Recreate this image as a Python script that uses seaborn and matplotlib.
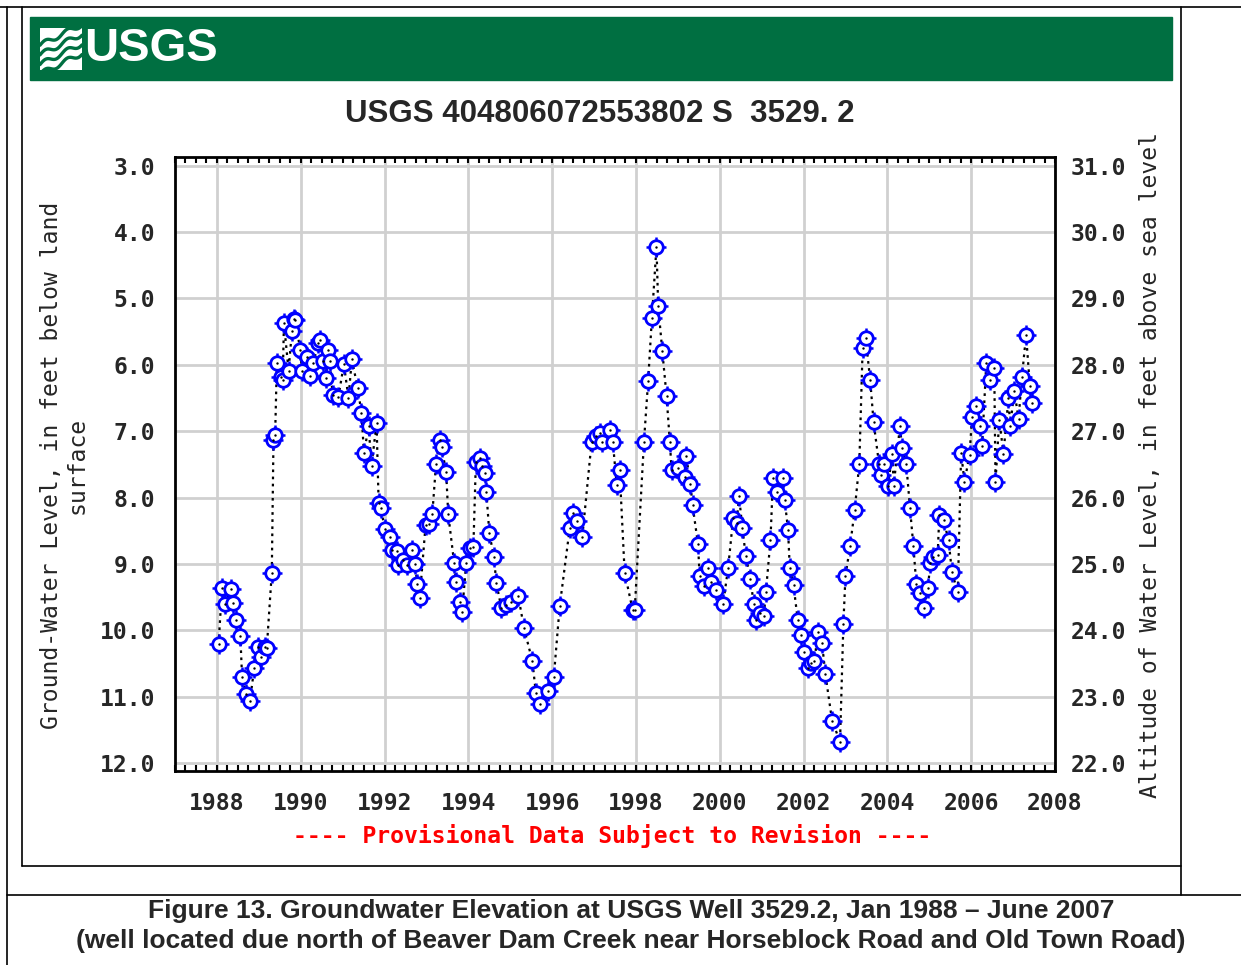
import numpy as np
import pandas as pd
import matplotlib
matplotlib.use("Agg")
import matplotlib.pyplot as plt
from matplotlib import font_manager
from matplotlib.lines import Line2D
from matplotlib.patches import Rectangle
import seaborn as sns

# measurement dates (decimal years) and depth to water, ft below land surface
years = [
    1988.04, 1988.12, 1988.20, 1988.33, 1988.38, 1988.46, 1988.56, 1988.60, 1988.70, 1988.79,
    1988.89, 1988.97, 1989.05, 1989.15, 1989.19, 1989.31, 1989.35, 1989.39, 1989.43, 1989.53,
    1989.57, 1989.60, 1989.71, 1989.79, 1989.83, 1989.87, 1989.99, 1990.03, 1990.15, 1990.22,
    1990.30, 1990.42, 1990.47, 1990.54, 1990.60, 1990.66, 1990.70, 1990.76, 1990.90, 1991.03,
    1991.14, 1991.22, 1991.36, 1991.45, 1991.51, 1991.62, 1991.69, 1991.81, 1991.86, 1991.91,
    1992.01, 1992.14, 1992.18, 1992.29, 1992.32, 1992.45, 1992.53, 1992.65, 1992.73, 1992.78,
    1992.84, 1992.98, 1993.06, 1993.14, 1993.23, 1993.32, 1993.36, 1993.47, 1993.52, 1993.66,
    1993.71, 1993.79, 1993.85, 1993.95, 1994.03, 1994.12, 1994.18, 1994.28, 1994.32, 1994.40,
    1994.43, 1994.50, 1994.61, 1994.67, 1994.79, 1994.91, 1995.03, 1995.19, 1995.33, 1995.53,
    1995.61, 1995.71, 1995.90, 1996.04, 1996.18, 1996.42, 1996.49, 1996.60, 1996.72, 1996.94,
    1997.04, 1997.14, 1997.18, 1997.38, 1997.45, 1997.54, 1997.61, 1997.73, 1997.92, 1997.97,
    1998.19, 1998.29, 1998.38, 1998.49, 1998.53, 1998.63, 1998.73, 1998.81, 1998.85, 1999.00,
    1999.16, 1999.20, 1999.30, 1999.35, 1999.48, 1999.52, 1999.62, 1999.72, 1999.80, 1999.92,
    2000.08, 2000.20, 2000.32, 2000.40, 2000.46, 2000.54, 2000.62, 2000.73, 2000.81, 2000.86,
    2000.97, 2001.05, 2001.10, 2001.21, 2001.27, 2001.37, 2001.51, 2001.55, 2001.63, 2001.67,
    2001.76, 2001.86, 2001.94, 2002.00, 2002.10, 2002.18, 2002.26, 2002.34, 2002.44, 2002.52,
    2002.68, 2002.87, 2002.95, 2003.00, 2003.11, 2003.22, 2003.33, 2003.41, 2003.48, 2003.59,
    2003.67, 2003.80, 2003.85, 2003.91, 2004.01, 2004.12, 2004.15, 2004.30, 2004.35, 2004.45,
    2004.54, 2004.62, 2004.69, 2004.77, 2004.87, 2004.97, 2005.02, 2005.08, 2005.20, 2005.24,
    2005.34, 2005.46, 2005.54, 2005.68, 2005.76, 2005.84, 2005.96, 2006.02, 2006.12, 2006.22,
    2006.26, 2006.36, 2006.44, 2006.55, 2006.58, 2006.67, 2006.77, 2006.89, 2006.93, 2007.03,
    2007.13, 2007.21, 2007.31, 2007.40, 2007.45,
]
depth_ft = [
    10.21, 9.37, 9.60, 9.38, 9.59, 9.85, 10.09, 10.70, 10.96, 11.06,
    10.57, 10.25, 10.40, 10.25, 10.27, 9.13, 7.13, 7.06, 5.98, 6.18,
    6.23, 5.37, 6.09, 5.49, 5.31, 5.33, 5.78, 6.09, 5.88, 6.17,
    5.98, 5.67, 5.62, 5.95, 6.20, 5.78, 5.95, 6.45, 6.48, 5.99,
    6.50, 5.92, 6.35, 6.73, 7.33, 6.93, 7.52, 6.88, 8.09, 8.16,
    8.48, 8.59, 8.79, 8.80, 9.01, 8.94, 9.01, 8.79, 9.00, 9.30,
    9.51, 8.41, 8.40, 8.25, 7.49, 7.13, 7.24, 7.61, 8.25, 8.98,
    9.28, 9.57, 9.73, 8.98, 8.76, 8.75, 7.46, 7.41, 7.53, 7.63,
    7.91, 8.53, 8.90, 9.29, 9.67, 9.62, 9.57, 9.48, 9.97, 10.47,
    10.94, 11.11, 10.92, 10.70, 9.64, 8.46, 8.24, 8.36, 8.59, 7.17,
    7.08, 7.03, 7.17, 6.98, 7.17, 7.81, 7.58, 9.13, 9.69, 9.70,
    7.17, 6.25, 5.30, 4.22, 5.11, 5.80, 6.47, 7.17, 7.59, 7.56,
    7.69, 7.38, 7.80, 8.11, 8.70, 9.18, 9.34, 9.06, 9.27, 9.40,
    9.60, 9.06, 8.31, 8.39, 7.98, 8.46, 8.88, 9.22, 9.60, 9.84,
    9.74, 9.79, 9.43, 8.64, 7.71, 7.91, 7.71, 8.04, 8.49, 9.06,
    9.32, 9.84, 10.07, 10.32, 10.57, 10.50, 10.47, 10.02, 10.19, 10.66,
    11.36, 11.68, 9.90, 9.18, 8.73, 8.19, 7.49, 5.74, 5.59, 6.23,
    6.86, 7.49, 7.66, 7.49, 7.83, 7.34, 7.83, 6.92, 7.26, 7.49,
    8.16, 8.73, 9.30, 9.44, 9.67, 9.37, 8.99, 8.89, 8.86, 8.26,
    8.34, 8.64, 9.12, 9.43, 7.33, 7.76, 7.36, 6.79, 6.62, 6.92,
    7.22, 5.98, 6.23, 6.05, 7.76, 6.83, 7.34, 6.50, 6.93, 6.39,
    6.82, 6.19, 5.55, 6.32, 6.58,
]

station_title = "USGS 404806072553802 S  3529. 2"
left_label = "Ground-Water Level, in feet below land\nsurface"
right_label = "Altitude of Water Level, in feet above sea level"
note = "---- Provisional Data Subject to Revision ----"
caption = ("Figure 13. Groundwater Elevation at USGS Well 3529.2, Jan 1988 \u2013 June 2007\n"
           "(well located due north of Beaver Dam Creek near Horseblock Road and Old Town Road)")
year_ticks = list(range(1988, 2009, 2))
depth_ticks = [3.0, 4.0, 5.0, 6.0, 7.0, 8.0, 9.0, 10.0, 11.0, 12.0]
land_alt = 34.0  # 3.0 ft below land <-> 31.0 ft above sea level
depth_lim = (12.12, 2.87)
year_lim = (1987.0, 2008.0)

df = pd.DataFrame({"year": years, "depth": depth_ft})

sns.set_style("white")
plt.rcParams["font.family"] = ["DejaVu Sans"]

installed = {f.name for f in font_manager.fontManager.ttflist}
narrow = "Liberation Sans Narrow" in installed
HEAD_FONT = ["Liberation Sans Narrow", "Liberation Sans"] if narrow else ["Liberation Sans"]
MONO = "DejaVu Sans Mono"
MONO_SIZE = 16.6
GREEN = "#006f41"
W, H = 1241, 965

fig = plt.figure(figsize=(W / 100, H / 100), dpi=100)
fig.patch.set_facecolor("white")


def fx(px):
    return px / W


def fy(py):
    return 1 - py / H


# page / frame lines
for xs, ys in [((0, W), (7, 7)), ((7, 7), (7, H)), ((7, W), (895, 895)),
               ((22, 22), (7, 866)), ((22, 1181), (866, 866)), ((1181, 1181), (7, 895))]:
    fig.add_artist(Line2D([fx(x) for x in xs], [fy(y) for y in ys], color="black", lw=1.2))

# USGS banner
banner = Rectangle((fx(30), fy(80)), fx(1142), 63 / H, color=GREEN, transform=fig.transFigure,
                   zorder=0)
fig.add_artist(banner)
logo = fig.add_axes([fx(40), fy(70), fx(42), 42 / H], zorder=3)
logo.set_xlim(0, 1)
logo.set_ylim(0, 1)
logo.axis("off")
logo.add_patch(Rectangle((0, 0), 1, 1, color="white"))
t = np.linspace(0, 1, 50)
for off in [0.15, 0.38, 0.61, 0.84]:
    logo.plot(t, off + 0.5 * t - 0.25 + 0.06 * np.sin(t * 12), color=GREEN, lw=2.4)
fig.text(fx(84), fy(49), "USGS", color="white", fontweight="bold", va="center", ha="left",
         fontsize=40 if narrow else 34, family=HEAD_FONT, zorder=4)

fig.text(fx(600), fy(114), station_title, ha="center", va="center",
         fontsize=28 if narrow else 22.5, fontweight="bold", family=HEAD_FONT)

ax = fig.add_axes([fx(175), fy(771), fx(880), 614 / H])
ax.set_facecolor("white")

sns.lineplot(data=df, x="year", y="depth", ax=ax, color="black", lw=1.6,
             linestyle=(0, (1.2, 2.0)), estimator=None, sort=False, zorder=2)
sns.scatterplot(data=df, x="year", y="depth", ax=ax, marker="+", s=190, color="blue",
                linewidth=1.8, zorder=3)
sns.scatterplot(data=df, x="year", y="depth", ax=ax, marker="o", s=95, color="white",
                edgecolor="blue", linewidth=2.0, zorder=4)
sns.scatterplot(data=df, x="year", y="depth", ax=ax, marker="o", s=3, color="black",
                edgecolor="black", linewidth=0, zorder=5)

ax.set_xlim(*year_lim)
ax.set_ylim(*depth_lim)
ax.set_xlabel("")
ax.set_ylabel("")
ax.set_xticks(year_ticks)
ax.set_xticks(np.arange(1987.0, 2008.01, 0.25), minor=True)
ax.set_yticks(depth_ticks)
ax.grid(True, color="#d0d0d0", lw=2.0)
ax.set_axisbelow(True)
ax.tick_params(axis="x", which="both", direction="in", top=True, bottom=True, length=4,
               width=1.5, color="black", pad=15)
ax.tick_params(axis="y", which="both", length=0, pad=14)
tick_font = dict(family=MONO, fontweight="bold", fontsize=MONO_SIZE)
ax.set_xticklabels([str(y) for y in year_ticks], **tick_font)
ax.set_yticklabels([f"{d:.1f}" for d in depth_ticks], **tick_font)
for s in ax.spines.values():
    s.set_color("black")
    s.set_linewidth(2.0)

ax2 = ax.twinx()
ax2.set_ylim(land_alt - depth_lim[0], land_alt - depth_lim[1])
alt_ticks = [land_alt - d for d in depth_ticks]
ax2.set_yticks(alt_ticks)
ax2.set_yticklabels([f"{a:.1f}" for a in alt_ticks], **tick_font)
ax2.tick_params(axis="y", length=0, pad=11)
for s in ax2.spines.values():
    s.set_visible(False)

fig.text(fx(64), fy(465), left_label, rotation=90, ha="center", va="center",
         multialignment="center", family=MONO, fontsize=MONO_SIZE, linespacing=1.15)
fig.text(fx(1151), fy(465), right_label, rotation=90, ha="center", va="center",
         family=MONO, fontsize=MONO_SIZE)
fig.text(fx(612), fy(836), note, ha="center", va="center", color="#ff0000",
         family=MONO, fontweight="bold", fontsize=MONO_SIZE)
fig.text(fx(631), fy(926), caption, ha="center", va="center", family=["Liberation Sans"],
         fontweight="bold", fontsize=19, linespacing=1.28)

fig.savefig("out.png", dpi=100, facecolor="white")
